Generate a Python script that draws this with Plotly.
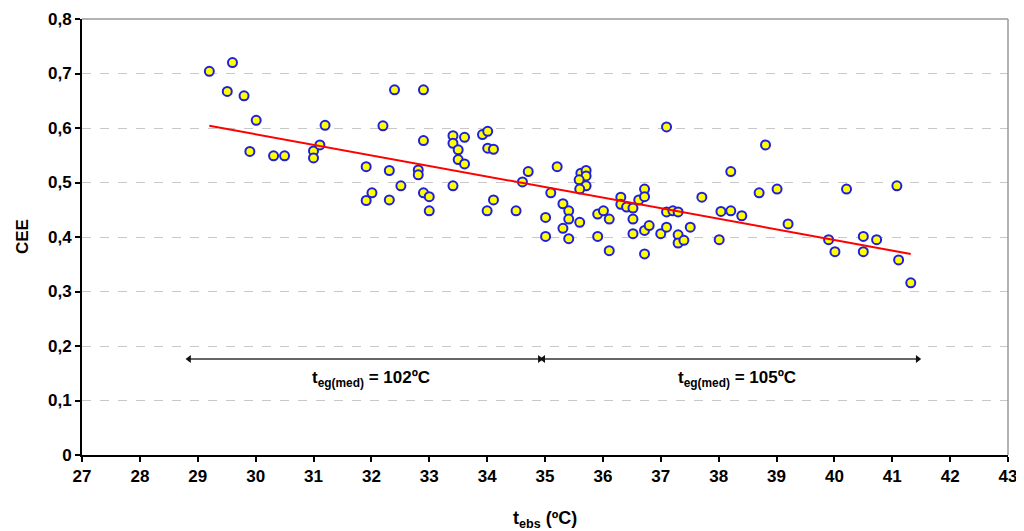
import plotly.graph_objects as go

# Scatter data: t_ebs (ºC) and CEE
t_ebs = [29.20, 29.60, 29.51, 29.80, 30.01, 29.90, 30.31, 30.50, 31.00, 31.00,
         31.11, 31.20, 31.91, 32.01, 31.91, 32.40, 32.90, 32.20, 32.90, 33.41,
         33.41, 33.61, 33.50, 33.50, 33.61, 33.92, 34.01, 34.01, 34.11, 32.31,
         32.81, 32.81, 32.51, 32.31, 32.90, 33.00, 33.00, 33.41, 34.11, 34.00,
         34.50, 34.71, 34.61, 35.10, 35.21, 35.01, 35.01, 37.10, 35.62, 35.71,
         35.71, 35.59, 35.71, 35.60, 35.31, 35.41, 35.41, 35.31, 35.41, 35.60,
         35.91, 36.01, 36.11, 35.91, 36.11, 36.31, 36.31, 36.41, 36.52, 36.52,
         36.62, 36.72, 36.72, 36.52, 36.72, 36.80, 36.72, 37.00, 37.10, 37.10,
         37.21, 37.30, 37.30, 37.30, 37.40, 37.51, 37.71, 38.04, 38.21, 38.40,
         38.01, 38.21, 38.70, 38.81, 39.01, 39.20, 39.90, 40.01, 40.21, 40.50,
         40.50, 40.73, 41.08, 41.11, 41.32]
cee = [0.704, 0.720, 0.667, 0.659, 0.614, 0.557, 0.549, 0.549, 0.558, 0.545,
       0.569, 0.605, 0.529, 0.481, 0.467, 0.670, 0.670, 0.604, 0.577, 0.586,
       0.572, 0.583, 0.560, 0.542, 0.534, 0.588, 0.594, 0.563, 0.561, 0.522,
       0.523, 0.514, 0.494, 0.468, 0.481, 0.474, 0.448, 0.494, 0.468, 0.448,
       0.448, 0.520, 0.501, 0.481, 0.529, 0.436, 0.401, 0.602, 0.517, 0.522,
       0.512, 0.505, 0.494, 0.488, 0.461, 0.448, 0.433, 0.416, 0.397, 0.427,
       0.442, 0.448, 0.433, 0.401, 0.375, 0.473, 0.460, 0.455, 0.453, 0.433,
       0.468, 0.488, 0.474, 0.406, 0.412, 0.421, 0.369, 0.406, 0.418, 0.446,
       0.448, 0.446, 0.404, 0.389, 0.394, 0.418, 0.473, 0.447, 0.448, 0.439,
       0.395, 0.520, 0.481, 0.569, 0.488, 0.424, 0.395, 0.373, 0.488, 0.401,
       0.373, 0.395, 0.494, 0.358, 0.316]

# Trend line end points
trend_x = [29.20, 41.32]
trend_y = [0.604, 0.369]

# Ranges of the two temperature groups (arrows) and their labels
group_ranges = [(28.85, 34.91), (34.97, 41.44)]
group_arrow_y = 0.176
group_labels = ['t<sub>eg(med)</sub> = 102ºC', 't<sub>eg(med)</sub> = 105ºC']
group_label_x = [32.0, 38.32]
group_label_y = 0.14

font_family = 'Arial, Liberation Sans, sans-serif'

fig = go.Figure()

fig.add_trace(go.Scatter(x=t_ebs, y=cee, mode='markers',
                         marker=dict(color='#FFFF00', size=9,
                                     line=dict(color='#1F1FE0', width=2)),
                         showlegend=False, cliponaxis=False))

fig.add_trace(go.Scatter(x=trend_x, y=trend_y, mode='lines',
                         line=dict(color='#FF0000', width=2),
                         showlegend=False))

# Double-headed arrows for each group
for x0, x1 in group_ranges:
    fig.add_trace(go.Scatter(x=[x0, x1], y=[group_arrow_y, group_arrow_y],
                             mode='lines+markers',
                             line=dict(color='#333333', width=1.5),
                             marker=dict(symbol=['triangle-left', 'triangle-right'],
                                         size=7, color='#111111'),
                             showlegend=False, hoverinfo='skip'))

for label, lx in zip(group_labels, group_label_x):
    fig.add_annotation(x=lx, y=group_label_y, xref='x', yref='y', text=label,
                       showarrow=False,
                       font=dict(family=font_family, size=17, color='black',
                                 weight='bold'))

# Axis titles
fig.add_annotation(x=0.5, y=0, xref='paper', yref='paper', yshift=-64,
                   yanchor='middle', text='t<sub>ebs</sub> (ºC)', showarrow=False,
                   font=dict(family=font_family, size=18, color='black',
                             weight='bold'))
fig.add_annotation(x=0, y=0.5, xref='paper', yref='paper', xshift=-60,
                   xanchor='center', text='CEE', textangle=-90, showarrow=False,
                   font=dict(family=font_family, size=17, color='black',
                             weight='bold'))

# Grey frame on top and right
fig.add_shape(type='line', xref='paper', yref='paper', x0=0, x1=1, y0=1, y1=1,
              line=dict(color='#999999', width=1.5))
fig.add_shape(type='line', xref='paper', yref='paper', x0=1, x1=1, y0=0, y1=1,
              line=dict(color='#999999', width=1.5))

# the page puts the figure 8px in from the top-left corner
fig.update_layout(
    width=1024, height=531,
    margin=dict(l=74, r=24, t=11, b=84),
    paper_bgcolor='white', plot_bgcolor='white',
    separators=',.',
    font=dict(family=font_family, color='black'),
    xaxis=dict(range=[27, 43], dtick=1, showgrid=False, zeroline=False,
               showline=True, linecolor='black', linewidth=2,
               ticks='outside', ticklen=5, tickcolor='black', tickwidth=1.5,
               tickfont=dict(size=17, weight='bold'), automargin=False),
    yaxis=dict(range=[0, 0.8], dtick=0.1, showgrid=True,
               gridcolor='#C8C8C8', griddash='dash', gridwidth=1,
               zeroline=False, showline=True, linecolor='black', linewidth=2,
               ticks='outside', ticklen=5, tickcolor='black', tickwidth=1.5,
               tickfont=dict(size=17, weight='bold'), automargin=False),
)

fig.write_html("out.html")
